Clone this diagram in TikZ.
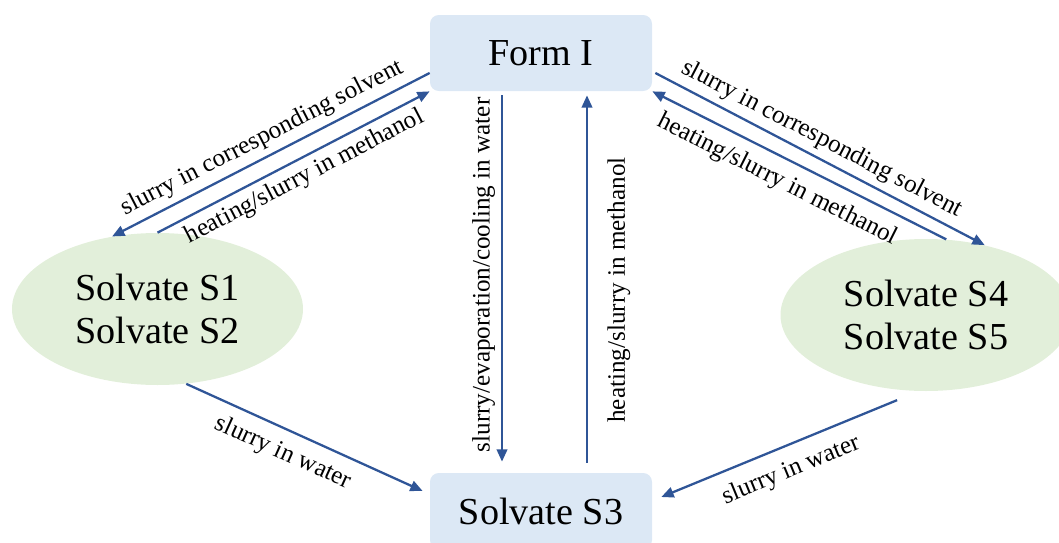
\documentclass[tikz,border=0pt]{standalone}
\usepackage{fontspec}
\setmainfont{Liberation Serif}
\usepackage{tikz}
\usetikzlibrary{shapes.geometric,arrows.meta}
\definecolor{formblue}{HTML}{DCE8F5}
\definecolor{solvgreen}{HTML}{E2EFDA}
\definecolor{arrowblue}{HTML}{2F5597}

\begin{document}
\begin{tikzpicture}[
  >={Triangle[length=7pt,width=6pt]},
  box/.style={fill=formblue,rounded corners=5pt,minimum width=4.44cm,minimum height=1.52cm,
    font=\fontsize{21.7}{26}\selectfont},
  solv/.style={ellipse,fill=solvgreen,minimum width=5.82cm,minimum height=3.04cm,align=center,
    font=\fontsize{21.7}{24.4}\selectfont},
  conv/.style={arrowblue,line width=1.3pt,->},
  lbl/.style={font=\fontsize{14.3}{16}\selectfont,text=black}
]
 \useasboundingbox (0,0) rectangle (21.18,10.84);

 \node[box] (form) at (10.82,9.78) {Form I};
 \node[box] (s3) at (10.82,0.62) {Solvate S3};
 \node[solv] (s12) at (3.15,4.66) {Solvate S1\\Solvate S2};
 \node[solv] (s45) at (18.52,4.54) {Solvate S4\\Solvate S5};

 % Form I <-> S1/S2
 \draw[conv] ([yshift=-0.4cm]form.west) -- (s12.122)
   node[lbl,midway,sloped,above]{slurry in corresponding solvent};
 \draw[conv] (s12.north) -- (form.south west)
   node[lbl,pos=0.51,sloped,below]{heating/slurry in methanol};

 % Form I <-> S4/S5
 \draw[conv] ([xshift=0.06cm,yshift=-0.4cm]form.east) -- (s45.50)
   node[lbl,pos=0.48,sloped,above]{slurry in corresponding solvent};
 \draw[conv] (s45.75) -- (form.south east)
   node[lbl,pos=0.54,sloped,below,inner ysep=6pt]{heating/slurry in methanol};

 % Form I <-> S3
 \draw[conv] ([xshift=-0.78cm,yshift=-0.08cm]form.south) -- ([xshift=-0.78cm,yshift=0.22cm]s3.north)
   node[lbl,pos=0.49,rotate=90,anchor=south]{slurry/evaporation/cooling in water};
 \draw[conv] ([xshift=0.92cm,yshift=0.2cm]s3.north) -- ([xshift=0.92cm,yshift=-0.08cm]form.south)
   node[lbl,pos=0.47,rotate=90,anchor=north,inner ysep=11pt]{heating/slurry in methanol};

 % solvates -> S3
 \draw[conv] (s12.291) -- ([xshift=-0.14cm,yshift=0.4cm]s3.west)
   node[lbl,pos=0.45,sloped,below,inner ysep=6pt]{slurry in water};
 \draw[conv] ([xshift=-0.06cm,yshift=-0.2cm]s45.251) -- ([xshift=0.18cm,yshift=0.28cm]s3.east)
   node[lbl,pos=0.49,sloped,below,inner ysep=7pt]{slurry in water};

\end{tikzpicture}
\end{document}
